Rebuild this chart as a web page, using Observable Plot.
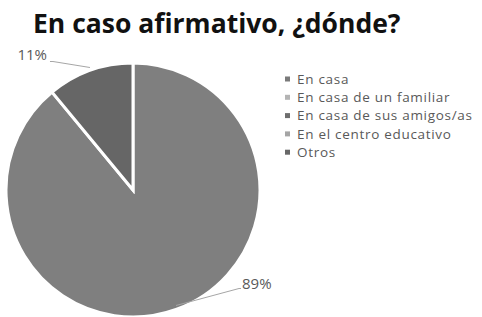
<!DOCTYPE html>
<html><head><meta charset="utf-8">
<script src="https://cdn.jsdelivr.net/npm/d3@7"></script>
<script src="https://cdn.jsdelivr.net/npm/@observablehq/plot@0.6"></script>
<style>
body{margin:0;background:#fff;}
#title{font-family:"Open Sans",sans-serif;font-weight:700;font-size:26.5px;color:#111;height:42px;line-height:42px;padding-left:33px;white-space:nowrap;position:relative;top:2px;margin-bottom:0;}
#chart{margin-top:0;}
</style>
</head><body>
<div id="title">En caso afirmativo, ¿dónde?</div>
<div id="chart"></div>
<script>
const categories = ["En casa","En casa de un familiar","En casa de sus amigos/as","En el centro educativo","Otros"];
const values = [89, 0, 0, 0, 11];
const colors = ["#7f7f7f","#b4b4b4","#6e6e6e","#a5a5a5","#666666"];
const legendColors = ["#7a7a7a","#b4b4b4","#6e6e6e","#a5a5a5","#686868"];

const data = categories.map((c,i)=>({category:c, value:values[i]}));
const H = 275, CX = 133, CY = 148, R = 127;

const pieMark = (index, scales, vals, dims) => {
  const g = d3.create("svg:g");
  const arcs = d3.pie().sort(null).value(d=>d.value)(data);
  const arc = d3.arc().innerRadius(0).outerRadius(R);
  g.selectAll("path").data(arcs.filter(a=>a.data.value>0)).join("path")
    .attr("transform",`translate(${CX},${CY})`)
    .attr("d",arc)
    .attr("fill",a=>scales.color(a.data.category))
    .attr("stroke","#fff").attr("stroke-width",3).attr("stroke-linejoin","miter");
  // leader lines + labels
  arcs.filter(a=>a.data.value>0).forEach(a=>{
    const m=(a.startAngle+a.endAngle)/2;
    const right = Math.sin(m)>0;
    const ex=CX+R*Math.sin(m), ey=CY-R*Math.cos(m)+ (right?-4:-3);
    const bx = right? ex+63 : ex-37, by = right? ey-17 : ey-6;
    const tx = right? bx+3 : bx-6;
    g.append("path").attr("d",`M${ex},${ey}L${bx},${by}L${right?bx+2:bx-3},${by}`)
      .attr("fill","none").attr("stroke","#a6a6a6").attr("stroke-width",1);
    g.append("text").attr("x",tx).attr("y",by+ (right?1:-2))
      .attr("text-anchor",right?"start":"end")
      .attr("font-family","Open Sans, sans-serif").attr("font-size",15)
      .attr("fill","#595959").text(`${a.data.value}%`);
  });
  // legend
  categories.forEach((c,i)=>{
    const y = 37 + i*18.3;
    g.append("rect").attr("x",285).attr("y",y-2.5).attr("width",5).attr("height",5)
      .attr("fill",legendColors[i]);
    g.append("text").attr("x",297).attr("y",y).attr("dy","0.35em")
      .attr("text-anchor","start")
      .attr("font-family","Open Sans, sans-serif").attr("font-size",13.5)
      .attr("letter-spacing","0.7px")
      .attr("fill","#595959").text(c);
  });
  return g.node();
};

const chart = Plot.plot({
  width: 482, height: H,
  margin: 0,
  x:{axis:null}, y:{axis:null},
  color:{domain:categories, range:colors},
  style:{background:"#fff"},
  marks:[pieMark]
});
document.getElementById("chart").append(chart);
</script>
</body></html>
